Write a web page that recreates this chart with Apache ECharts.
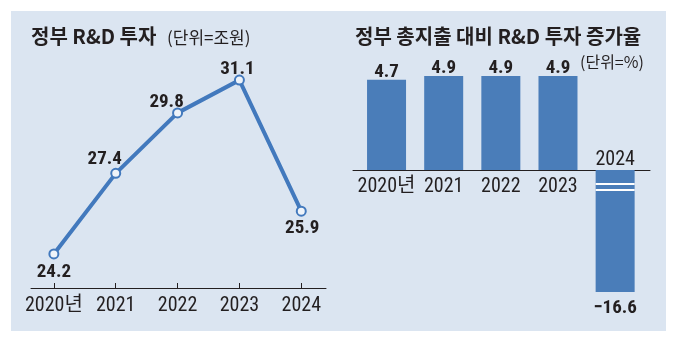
<!DOCTYPE html>
<html><head><meta charset="utf-8">
<script src="https://cdn.jsdelivr.net/npm/echarts@6/dist/echarts.min.js"></script>
<style>html,body{margin:0;padding:0;background:#fff}#c{width:677px;height:362px}</style>
</head><body><div id="c"></div>
<script>
const lineCats = ['2020년', '2021', '2022', '2023', '2024'];
const rdInvest = [24.2, 27.4, 29.8, 31.1, 25.9];
const barCats = ['2020년', '2021', '2022', '2023', '2024'];
const rdGrowth = [4.7, 4.9, 4.9, 4.9, -16.6];

const NUM = "'Roboto Condensed', 'Noto Sans CJK KR', sans-serif";
const KR = "'Noto Sans CJK KR', sans-serif";
const TXT = '#231f20';
const BLUE = '#4279bd';
const BAR = '#4a7db9';
const BG = '#dbe5f1';

const lineLabelStyle = [
  {position: 'bottom', distance: 3, offset: [0, 0]},
  {position: 'top', distance: -4, offset: [-11, -3]},
  {position: 'top', distance: -4, offset: [-11, 0]},
  {position: 'top', distance: -4, offset: [-2, 0]},
  {position: 'bottom', distance: 2, offset: [1, 0]}
];
const BREAK_TOP = -0.73, BREAK_BOTTOM = -11.29;
const X2MIN = -0.587, X2MAX = 4.61;

const chart = echarts.init(document.getElementById('c'), null, {renderer: 'canvas'});
const catLabel = {fontFamily: NUM, fontSize: 20, color: TXT};
const option = {
  backgroundColor: '#fff',
  animation: false,
  title: [
    {text: '정부 R&D 투자', left: 31, top: 26, padding: 0, textStyle: {fontFamily: KR, fontSize: 20, fontWeight: 'bold', color: TXT}},
    {text: '(단위=조원)', left: 167, top: 29, padding: 0, textStyle: {fontFamily: KR, fontSize: 17, fontWeight: 'normal', color: TXT}},
    {text: '정부 총지출 대비 R&D 투자 증가율', left: 355, top: 26, padding: 0, textStyle: {fontFamily: KR, fontSize: 20, fontWeight: 'bold', color: TXT}},
    {text: '(단위=%)', left: 580, top: 54, padding: 0, textStyle: {fontFamily: KR, fontSize: 16, fontWeight: 'normal', color: TXT}}
  ],
  grid: [
    {left: 31, right: 351, top: 57.44, bottom: 74},
    {left: 353, right: 27, top: 64.4, bottom: 70},
    {left: 353, right: 27, top: 100, bottom: 192},
    {left: 353, right: 27, top: 170, bottom: 100}
  ],
  xAxis: [
    {gridIndex: 0, type: 'value', min: -0.37, max: 4.4,
     axisLine: {show: true, onZero: false, lineStyle: {color: TXT, width: 1}},
     axisTick: {show: true, inside: true, length: 5, customValues: [0,1,2,3,4], lineStyle: {color: TXT}},
     axisLabel: Object.assign({show: true, customValues: [0,1,2,3,4], margin: 8, formatter: v => lineCats[Math.round(v)]}, catLabel),
     splitLine: {show: false}},
    {gridIndex: 1, type: 'value', min: X2MIN, max: X2MAX, position: 'bottom',
     axisLine: {show: true, onZero: true, lineStyle: {color: TXT, width: 1}},
     axisTick: {show: false}, axisLabel: {show: false}, splitLine: {show: false}},
    {gridIndex: 2, type: 'value', min: X2MIN, max: X2MAX, position: 'bottom',
     axisLine: {show: false, onZero: false}, axisTick: {show: false},
     axisLabel: Object.assign({show: true, customValues: [0,1,2,3], margin: 7, formatter: v => barCats[Math.round(v)]}, catLabel),
     splitLine: {show: false}},
    {gridIndex: 3, type: 'value', min: X2MIN, max: X2MAX, position: 'top',
     axisLine: {show: false, onZero: false}, axisTick: {show: false},
     axisLabel: Object.assign({show: true, customValues: [4], margin: 0, formatter: v => barCats[Math.round(v)]}, catLabel),
     splitLine: {show: false}}
  ],
  yAxis: [
    {gridIndex: 0, type: 'value', min: 22.85, max: 32, show: false, splitLine: {show: false}},
    {gridIndex: 1, type: 'value', min: -16.6, max: 5.5, show: false, splitLine: {show: false},
     breaks: [{start: BREAK_BOTTOM, end: BREAK_TOP, gap: 0.3125}],
     breakArea: {show: true, expandOnClick: false, zigzagAmplitude: 0,
       itemStyle: {color: 'rgba(0,0,0,0)', borderColor: 'rgba(0,0,0,0)', borderWidth: 0, opacity: 0}}},
    {gridIndex: 2, type: 'value', min: 0, max: 1, show: false},
    {gridIndex: 3, type: 'value', min: 0, max: 1, show: false}
  ],
  series: [
    {type: 'line', xAxisIndex: 0, yAxisIndex: 0,
     data: rdInvest.map((v, i) => ({value: [i, v], label: lineLabelStyle[i]})),
     lineStyle: {color: BLUE, width: 4},
     symbol: 'circle', symbolSize: 9,
     itemStyle: {color: '#eef3f9', borderColor: BLUE, borderWidth: 2},
     label: {show: true, formatter: p => p.value[1].toFixed(1), fontFamily: NUM, fontSize: 19, fontWeight: 'bold', color: TXT},
     z: 3},
    {type: 'bar', xAxisIndex: 1, yAxisIndex: 1, barWidth: 39,
     data: rdGrowth.map((v, i) => ({value: [i, v], label: v < 0 ? {position: 'bottom', distance: 7} : {position: 'top', distance: -2}})),
     itemStyle: {color: BAR},
     label: {show: true, formatter: p => (p.value[1] < 0 ? '−' + Math.abs(p.value[1]).toFixed(1) : p.value[1].toFixed(1)), fontFamily: NUM, fontSize: 19, fontWeight: 'bold', color: TXT}}
  ]
};
chart.setOption(option);

const panel = {type: 'rect', z: -10, silent: true, shape: {x: 11, y: 11, width: 655, height: 320}, style: {fill: BG}};
const xc = chart.convertToPixel({xAxisIndex: 1}, 4);
const yA = chart.convertToPixel({yAxisIndex: 1}, BREAK_TOP);
const yB = chart.convertToPixel({yAxisIndex: 1}, BREAK_BOTTOM);
chart.setOption({graphic: [
  panel,
  {type: 'rect', z: 100, silent: true, shape: {x: xc - 19.5, y: yA - 1, width: 39, height: 2}, style: {fill: '#ffffff'}},
  {type: 'rect', z: 100, silent: true, shape: {x: xc - 19.5, y: yB - 1, width: 39, height: 2}, style: {fill: '#ffffff'}}
]});
</script></body></html>
